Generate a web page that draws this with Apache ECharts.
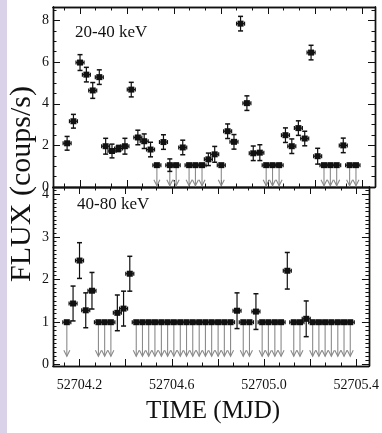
<!DOCTYPE html>
<html>
<head>
<meta charset="utf-8">
<script src="https://cdn.jsdelivr.net/npm/echarts@6/dist/echarts.min.js"></script>
<style>
  html, body { margin: 0; padding: 0; background: #fff; }
  #chart { position: absolute; left: 0; top: 0; width: 382px; height: 433px; }
  #strip { position: absolute; left: 0; top: 0; width: 7px; height: 433px; background: #dad2e9; }
</style>
</head>
<body>
<div id="chart"></div>
<div id="strip"></div>
<script>
// time bins (MJD)
const times = [
  52704.145, 52704.172, 52704.200, 52704.227, 52704.254, 52704.282, 52704.309, 52704.336,
  52704.364, 52704.391, 52704.418, 52704.446, 52704.473, 52704.500, 52704.527, 52704.555,
  52704.582, 52704.609, 52704.637, 52704.664, 52704.691, 52704.719, 52704.746, 52704.773,
  52704.801, 52704.828, 52704.855, 52704.883, 52704.910, 52704.937, 52704.965, 52704.992,
  52705.019, 52705.047, 52705.074, 52705.101, 52705.129, 52705.156, 52705.183, 52705.211,
  52705.238, 52705.265, 52705.292, 52705.320, 52705.347, 52705.374
];

// 20-40 keV
const flux2040 = [
  2.10, 3.16, 5.98, 5.40, 4.64, 5.28, 1.96, 1.73, 1.85, 1.96, 4.68, 2.38, 2.20, 1.80, 1.05, 2.16,
  1.05, 1.05, 1.90, 1.05, 1.05, 1.05, 1.33, 1.57, 1.05, 2.68, 2.17, 7.85, 4.03, 1.62, 1.65, 1.05,
  1.05, 1.05, 2.49, 1.96, 2.83, 2.33, 6.46, 1.48, 1.05, 1.05, 1.05, 2.00, 1.05, 1.05
];
const err2040 = [
  0.33, 0.33, 0.38, 0.35, 0.38, 0.35, 0.38, 0.33, 0.15, 0.38, 0.35, 0.35, 0.35, 0.35, 0, 0.35,
  0.30, 0, 0.35, 0, 0, 0, 0.30, 0.38, 0, 0.35, 0.35, 0.35, 0.35, 0.35, 0.38, 0,
  0, 0, 0.35, 0.35, 0.35, 0.35, 0.35, 0.38, 0, 0, 0, 0.35, 0, 0
];
const ul2040 = [
  0, 0, 0, 0, 0, 0, 0, 0, 0, 0, 0, 0, 0, 0, 1, 0,
  1, 1, 0, 1, 1, 1, 0, 0, 1, 0, 0, 0, 0, 0, 0, 1,
  1, 1, 0, 0, 0, 0, 0, 0, 1, 1, 1, 0, 1, 1
];

// 40-80 keV
const flux4080 = [
  1.00, 1.44, 2.45, 1.28, 1.74, 1.00, 1.00, 1.00, 1.22, 1.32, 2.14, 1.00, 1.00, 1.00, 1.00, 1.00,
  1.00, 1.00, 1.00, 1.00, 1.00, 1.00, 1.00, 1.00, 1.00, 1.00, 1.00, 1.27, 1.00, 1.00, 1.25, 1.00,
  1.00, 1.00, 1.00, 2.21, 1.00, 1.00, 1.08, 1.00, 1.00, 1.00, 1.00, 1.00, 1.00, 1.00
];
const err4080 = [
  0, 0.41, 0.42, 0.41, 0.43, 0, 0, 0, 0.42, 0.41, 0.41, 0, 0, 0, 0, 0,
  0, 0, 0, 0, 0, 0, 0, 0, 0, 0, 0, 0.42, 0, 0, 0.42, 0,
  0, 0, 0, 0.43, 0, 0, 0.42, 0, 0, 0, 0, 0, 0, 0
];
const ul4080 = [
  1, 0, 0, 0, 0, 1, 1, 1, 0, 0, 0, 1, 1, 1, 1, 1,
  1, 1, 1, 1, 1, 1, 1, 1, 1, 1, 1, 0, 1, 1, 0, 1,
  1, 1, 1, 0, 1, 1, 0, 1, 1, 1, 1, 1, 1, 1
];

const xTickLabels = [52704.2, 52704.6, 52705.0, 52705.4];
const xMajor = [52704.2, 52704.4, 52704.6, 52704.8, 52705.0, 52705.2, 52705.4];
const yLabelsTop = [0, 2, 4, 6, 8];
const yLabelsBottom = [0, 1, 2, 3, 4];

const X_MIN = 52704.085, X_MAX = 52705.455;
const serif = '"Liberation Serif", "Times New Roman", serif';
const ink = '#111';

function steps(from, to, step) {
  const out = [];
  for (let v = from; v <= to + 1e-9; v += step) out.push(+v.toFixed(4));
  return out;
}
const xMinor = steps(52704.2 - 0.2 / 3, X_MAX, 0.2 / 3);

function ticks(values, len) {
  return { show: true, inside: true, length: len, customValues: values, lineStyle: { color: ink, width: 1 } };
}

function tickAxis(extra) {
  return Object.assign({
    type: 'value',
    axisLine: { show: true, onZero: false, lineStyle: { color: ink, width: 1.4 } },
    axisLabel: { show: false },
    splitLine: { show: false },
  }, extra);
}

const xAxis = [], yAxis = [];
const grids = [
  { left: 53, right: 7, top: 7, height: 180 },
  { left: 53, right: 7, top: 187, height: 179 },
];
const yRanges = [[0, 8.65], [-0.03, 4.18]];
const yMajor = [yLabelsTop, yLabelsBottom];
const yMinor = [steps(0, 8.6, 0.5), steps(0, 4.1, 0.1)];

grids.forEach((g, gi) => {
  // main axes first, so xAxisIndex/yAxisIndex = gi
  xAxis[gi] = tickAxis({
    gridIndex: gi, min: X_MIN, max: X_MAX, position: 'bottom',
    axisTick: ticks(xMajor, 7),
    axisLabel: gi === 1 ? {
      show: true, customValues: xTickLabels, margin: 12,
      fontFamily: serif, fontSize: 14, color: ink,
      formatter: v => v.toFixed(1),
    } : { show: false },
  });
  yAxis[gi] = tickAxis({
    gridIndex: gi, min: yRanges[gi][0], max: yRanges[gi][1], position: 'left',
    axisTick: ticks(yMajor[gi], 7),
    axisLabel: {
      show: true, customValues: yMajor[gi], margin: 4,
      fontFamily: serif, fontSize: 14, color: ink,
    },
  });
});
grids.forEach((g, gi) => {
  const xr = { gridIndex: gi, min: X_MIN, max: X_MAX };
  const yr = { gridIndex: gi, min: yRanges[gi][0], max: yRanges[gi][1] };
  xAxis.push(tickAxis(Object.assign({ position: 'bottom', axisTick: ticks(xMinor, 3.5) }, xr)));
  xAxis.push(tickAxis(Object.assign({ position: 'top', axisTick: ticks(xMajor, 7) }, xr)));
  xAxis.push(tickAxis(Object.assign({ position: 'top', axisTick: ticks(xMinor, 3.5) }, xr)));
  yAxis.push(tickAxis(Object.assign({ position: 'left', axisTick: ticks(yMinor[gi], 3.5) }, yr)));
  yAxis.push(tickAxis(Object.assign({ position: 'right', axisTick: ticks(yMajor[gi], 7) }, yr)));
  yAxis.push(tickAxis(Object.assign({ position: 'right', axisTick: ticks(yMinor[gi], 3.5) }, yr)));
});

// one point: square, x-bar, y error bar, or an upper-limit arrow down to `tip`
function pointRenderer(tip) {
  return function (params, api) {
    const t = api.value(0), v = api.value(1), e = api.value(2), ul = api.value(3);
    const c = api.coord([t, v]);
    const kids = [];
    const line = (x1, y1, x2, y2, stroke, w) => ({
      type: 'line', shape: { x1, y1, x2, y2 }, style: { stroke, lineWidth: w || 1.2 },
    });
    if (ul) {
      const p = api.coord([t, tip]);
      kids.push(line(c[0], c[1], p[0], p[1], '#8a8a8a', 1.1));
      kids.push({ type: 'polyline', shape: { points: [[p[0] - 3, p[1] - 6], [p[0], p[1]], [p[0] + 3, p[1] - 6]] },
        style: { stroke: '#8a8a8a', fill: null, lineWidth: 1.1 } });
    }
    if (e > 0) {
      const a = api.coord([t, v + e]), b = api.coord([t, v - e]);
      kids.push(line(c[0], a[1], c[0], b[1], ink));
      kids.push(line(c[0] - 2.5, a[1], c[0] + 2.5, a[1], ink, 1.5));
      kids.push(line(c[0] - 2.5, b[1], c[0] + 2.5, b[1], ink, 1.5));
    }
    kids.push(line(c[0] - 4, c[1], c[0] + 4, c[1], ink));
    kids.push(line(c[0] - 4, c[1] - 2, c[0] - 4, c[1] + 2, ink));
    kids.push(line(c[0] + 4, c[1] - 2, c[0] + 4, c[1] + 2, ink));
    kids.push({ type: 'rect', shape: { x: c[0] - 3, y: c[1] - 3, width: 6, height: 6 }, style: { fill: ink } });
    return { type: 'group', children: kids };
  };
}

const rows = (flux, err, ul) => times.map((t, i) => [t, flux[i], err[i], ul[i]]);

const chart = echarts.init(document.getElementById('chart'), null, { renderer: 'canvas' });
chart.setOption({
  animation: false,
  backgroundColor: '#fff',
  grid: grids,
  xAxis,
  yAxis,
  series: [
    { type: 'custom', xAxisIndex: 0, yAxisIndex: 0, renderItem: pointRenderer(0.06),
      data: rows(flux2040, err2040, ul2040), encode: { x: 0, y: 1 } },
    { type: 'custom', xAxisIndex: 1, yAxisIndex: 1, renderItem: pointRenderer(0.2),
      data: rows(flux4080, err4080, ul4080), encode: { x: 0, y: 1 } },
  ],
  graphic: [
    { type: 'text', left: 75, top: 24, style: { text: '20-40 keV', font: '17px ' + serif, fill: ink } },
    { type: 'text', left: 77, top: 196, style: { text: '40-80 keV', font: '17px ' + serif, fill: ink } },
    { type: 'text', x: 22, y: 184, rotation: Math.PI / 2,
      style: { text: 'FLUX (coups/s)', font: '30px ' + serif, fill: ink, align: 'center', verticalAlign: 'middle' } },
    { type: 'text', x: 213, y: 411,
      style: { text: 'TIME (MJD)', font: '25px ' + serif, fill: ink, align: 'center', verticalAlign: 'middle' } },
  ],
});
</script>
</body>
</html>
